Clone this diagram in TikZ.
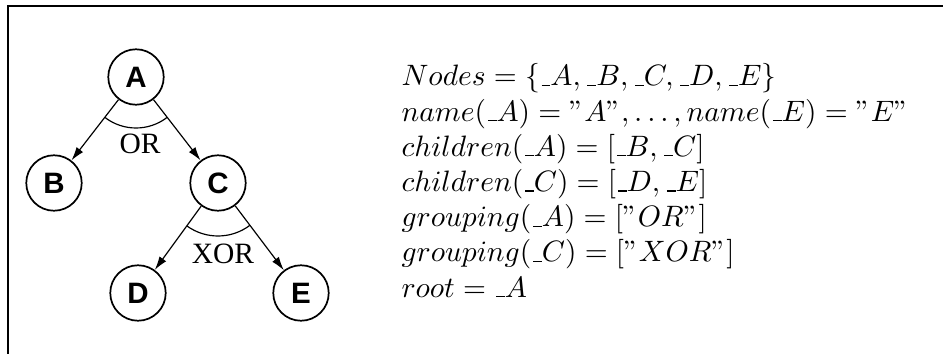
\documentclass[tikz,border=0pt]{standalone}
\usepackage[no-math]{fontspec}
\newfontfamily\helvfont{Liberation Sans}
\newfontfamily\romfont{Liberation Serif}
\usetikzlibrary{arrows.meta, calc}
\newcommand{\usc}{\kern.06em\vbox{\hrule width .3em}}
\tikzset{
  treenode/.style={
    circle, draw, line width=0.58pt, minimum size=18.8pt, inner sep=0pt,
    font=\helvfont\bfseries\fontsize{10}{12}\selectfont
  },
  treeedge/.style={-{Latex[length=4.6pt, width=2.8pt]}, line width=0.4pt},
  grouparc/.style={line width=0.4pt},
  grouplabel/.style={font=\romfont\fontsize{10}{12}\selectfont, inner sep=0pt},
  defline/.style={anchor=base west, inner sep=0pt},
}

\begin{document}
\begin{tikzpicture}[x=0.339pt, y=0.339pt]
  \useasboundingbox (0,0) rectangle (943,354);

  % -- frame --
  \draw[line width=0.7pt] (8,0) -- (8,348) -- (943,348);

  % -- tree --
  \node[treenode] (A) at (136,277) {A};
  \node[treenode] (B) at (54,171)  {B};
  \node[treenode] (C) at (218,171) {C};
  \node[treenode] (D) at (138,61)  {D};
  \node[treenode] (E) at (301,61)  {E};

  \draw[treeedge] (A) -- (B);
  \draw[treeedge] (A) -- (C);
  \draw[treeedge] (C) -- (D);
  \draw[treeedge] (C) -- (E);

  % -- groupings --
  \draw[grouparc] ($(A.center)+(232.3:51)$) arc[start angle=232.3, end angle=307.7, radius=51];
  \node[grouplabel] (orlabel) at (140,210) {OR};
  \draw[grouparc] ($(C.center)+(234:53)$) arc[start angle=234, end angle=307, radius=53];
  \node[grouplabel] (xorlabel) at (223,100) {XOR};

  % -- definitions --
  \node[defline] (nodesdef)    at (401,268)   {$Nodes = \{\usc A, \usc B, \usc C, \usc D, \usc E\}$};
  \node[defline] (namedef)     at (401,232.8) {$name(\usc A) = "A", \ldots, name(\usc E) = "E"$};
  \node[defline] (childrenA)   at (401,197.6) {$children(\usc A) = [\usc B, \usc C]$};
  \node[defline] (childrenC)   at (401,162.4) {$children(\usc C) = [\usc D, \usc E]$};
  \node[defline] (groupingA)   at (401,127.2) {$grouping(\usc A) = ["OR"]$};
  \node[defline] (groupingC)   at (401,92)    {$grouping(\usc C) = ["XOR"]$};
  \node[defline] (rootdef)     at (401,56.8)  {$root = \usc A$};

\end{tikzpicture}
\end{document}
